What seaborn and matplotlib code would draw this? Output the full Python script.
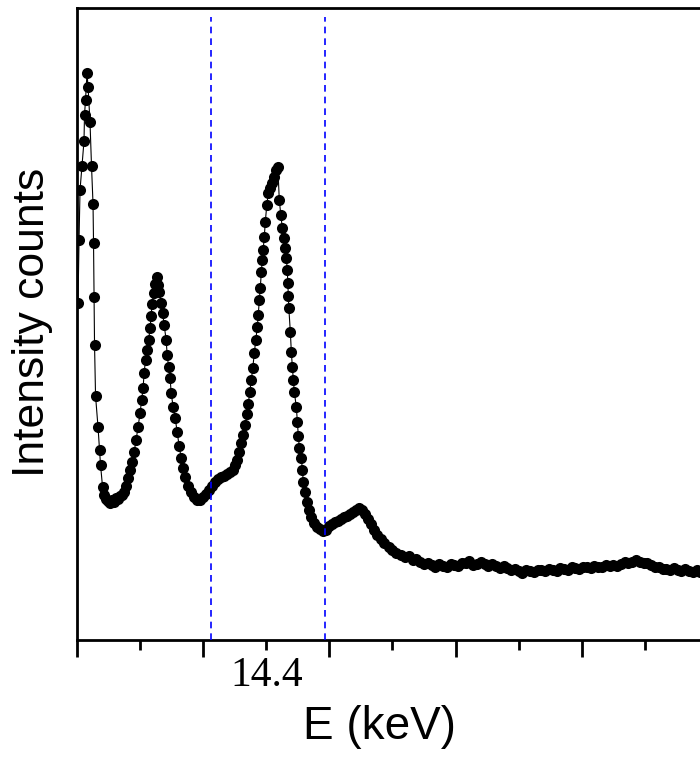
import numpy as np
import matplotlib
matplotlib.use("Agg")
import matplotlib.pyplot as plt
import seaborn as sns

# Espectro: zona de picos
energia_picos = [
    14.1016, 14.1032, 14.1048, 14.1079, 14.1111, 14.1119, 14.1135, 14.1159, 14.1175, 14.1206,
    14.1230, 14.1254, 14.1262, 14.1270, 14.1278, 14.1294, 14.1333, 14.1357, 14.1373, 14.1405,
    14.1429, 14.1460, 14.1492, 14.1524, 14.1556, 14.1587, 14.1619, 14.1651, 14.1683, 14.1714,
    14.1746, 14.1778, 14.1810, 14.1841, 14.1873, 14.1905, 14.1937, 14.1968, 14.2000, 14.2024,
    14.2048, 14.2063, 14.2087, 14.2111, 14.2135, 14.2159, 14.2175, 14.2190, 14.2214, 14.2238,
    14.2262, 14.2286, 14.2302, 14.2333, 14.2357, 14.2381, 14.2413, 14.2429, 14.2452, 14.2476,
    14.2492, 14.2524, 14.2556, 14.2587, 14.2619, 14.2651, 14.2683, 14.2714, 14.2762, 14.2810,
    14.2857, 14.2905, 14.2952, 14.3000, 14.3048, 14.3095, 14.3143, 14.3190, 14.3238, 14.3286,
    14.3333, 14.3381, 14.3429, 14.3476, 14.3508, 14.3540, 14.3571, 14.3603, 14.3635, 14.3667,
    14.3690, 14.3714, 14.3738, 14.3762, 14.3786, 14.3810, 14.3833, 14.3857, 14.3873, 14.3889,
    14.3905, 14.3921, 14.3937, 14.3952, 14.3968, 14.3984, 14.4008, 14.4032, 14.4063, 14.4095,
    14.4127, 14.4159, 14.4183, 14.4206, 14.4230, 14.4254, 14.4278, 14.4302, 14.4317, 14.4333,
    14.4341, 14.4349, 14.4357, 14.4381, 14.4397, 14.4413, 14.4429, 14.4444, 14.4476, 14.4492,
    14.4508, 14.4524, 14.4556, 14.4571, 14.4587, 14.4619, 14.4651, 14.4683, 14.4714, 14.4762,
    14.4810, 14.4857, 14.4905, 14.4952, 14.5000, 14.5048, 14.5095, 14.5143, 14.5190, 14.5238,
    14.5286, 14.5333, 14.5381, 14.5429, 14.5476, 14.5524, 14.5571, 14.5619, 14.5667, 14.5714,
    14.5762, 14.5810, 14.5873, 14.5937, 14.6000, 14.6063, 14.6127,
]
cuentas_picos = [
    337, 400, 450, 474, 499, 525, 540, 567, 553, 518,
    474, 436, 397, 343, 295, 244, 213, 190, 175, 153,
    145, 141, 139, 137, 140, 138, 142, 141, 144, 145,
    148, 154, 162, 170, 178, 188, 200, 213, 227, 240,
    252, 267, 280, 290, 300, 312, 324, 336, 347, 356,
    363, 355, 348, 337, 327, 315, 300, 285, 273, 262,
    247, 233, 222, 208, 194, 182, 172, 163, 154, 148,
    143, 140, 140, 143, 146, 150, 154, 158, 161, 163,
    164, 166, 168, 170, 175, 180, 188, 197, 205, 215,
    226, 236, 248, 260, 272, 287, 300, 313, 325, 340,
    352, 368, 380, 390, 403, 418, 435, 447, 452, 457,
    463, 470, 473, 440, 425, 412, 402, 392, 382, 370,
    357, 344, 332, 308, 288, 273, 260, 248, 233, 218,
    204, 192, 182, 170, 158, 148, 138, 130, 123, 117,
    113, 111, 109, 110, 114, 116, 118, 119, 121, 123,
    124, 126, 128, 130, 132, 130, 126, 121, 116, 110,
    105, 101, 97, 93, 90, 87, 85,
]

# Cola del espectro
energia_cola = [
    14.620, 14.626, 14.632, 14.638, 14.644, 14.650, 14.656, 14.662, 14.668, 14.674,
    14.680, 14.686, 14.692, 14.698, 14.704, 14.710, 14.716, 14.722, 14.728, 14.734,
    14.740, 14.746, 14.752, 14.758, 14.764, 14.770, 14.776, 14.782, 14.788, 14.794,
    14.800, 14.806, 14.812, 14.818, 14.824, 14.830, 14.836, 14.842, 14.848, 14.854,
    14.860, 14.866, 14.872, 14.878, 14.884, 14.890, 14.896, 14.902, 14.908, 14.914,
    14.920, 14.926, 14.932, 14.938, 14.944, 14.950, 14.956, 14.962, 14.968, 14.974,
    14.980, 14.986, 14.992, 14.998, 15.004, 15.010, 15.016, 15.022, 15.028, 15.034,
    15.040, 15.046, 15.052, 15.058, 15.064, 15.070, 15.076, 15.082, 15.088, 15.094,
]
cuentas_cola = [
    83, 84, 80, 81, 78, 76, 77, 75, 73, 76,
    74, 73, 76, 75, 74, 77, 77, 79, 75, 76,
    78, 76, 74, 76, 74, 72, 74, 72, 70, 71,
    69, 67, 70, 69, 68, 70, 70, 69, 71, 70,
    69, 72, 71, 70, 73, 72, 71, 73, 73, 72,
    74, 73, 73, 75, 74, 75, 74, 76, 78, 77,
    78, 80, 78, 77, 77, 75, 73, 73, 71, 71,
    70, 72, 70, 69, 71, 69, 68, 70, 68, 69,
]

# Lineas verticales discontinuas (keV)
lineas_v = [14.3127, 14.4937]

ticks_mayores = [14.1, 14.3, 14.5, 14.7, 14.9, 15.1]
ticks_menores = [14.2, 14.4, 14.6, 14.8, 15.0]
etiquetas_menores = ["", "14.4", "", "", ""]


def main():
    sns.set_style("white")
    plt.rcParams['font.family'] = ['Liberation Sans', 'DejaVu Sans']
    plt.rcParams['text.color'] = 'black'
    plt.rcParams['xtick.color'] = 'black'
    plt.rcParams['xtick.labelcolor'] = 'black'

    energia = np.array(energia_picos + energia_cola)
    cuentas = np.array(cuentas_picos + cuentas_cola)

    fig = plt.figure(figsize=(7.0, 7.58), dpi=100)
    # el eje se sale por la derecha (figura recortada)
    ax = fig.add_axes([0.11, 0.1557, 0.9014, 0.8338])

    sns.lineplot(x=energia, y=cuentas, ax=ax, color='black', linewidth=0.8,
                 marker='o', markersize=8, markeredgewidth=0,
                 markerfacecolor='black', estimator=None, sort=False)

    ax.vlines(lineas_v, 0, 623, colors='#0000ff', linestyles=(0, (4, 3)),
              linewidth=1.2, zorder=3)

    ax.set_xlim(14.1, 15.1)
    ax.set_ylim(0, 632)

    ax.set_xticks(ticks_mayores, labels=[""] * len(ticks_mayores))
    ax.set_xticks(ticks_menores, labels=etiquetas_menores, minor=True)
    ax.set_yticks([])
    ax.tick_params(axis='x', which='major', direction='out', length=12.5,
                   width=2.0, color='black', bottom=True)
    ax.tick_params(axis='x', which='minor', direction='out', length=7.2,
                   width=2.0, color='black', bottom=True, pad=5)
    for lab in ax.get_xticklabels(minor=True):
        lab.set_fontfamily(['Liberation Serif', 'DejaVu Serif'])
        lab.set_fontsize(30)
        lab.set_color('black')

    for s in ax.spines.values():
        s.set_linewidth(2.0)
        s.set_color('black')
        s.set_visible(True)

    ax.set_xlabel('')
    ax.set_ylabel('')
    fig.text(380 / 700, 1 - 727 / 758, 'E (keV)', fontsize=33,
             ha='center', va='center', color='black')
    fig.text(33 / 700, 1 - 322 / 758, 'Intensity counts', fontsize=32,
             rotation=90, ha='center', va='center', color='black')

    fig.savefig('out.png', dpi=100)
    plt.close(fig)


if __name__ == '__main__':
    main()
